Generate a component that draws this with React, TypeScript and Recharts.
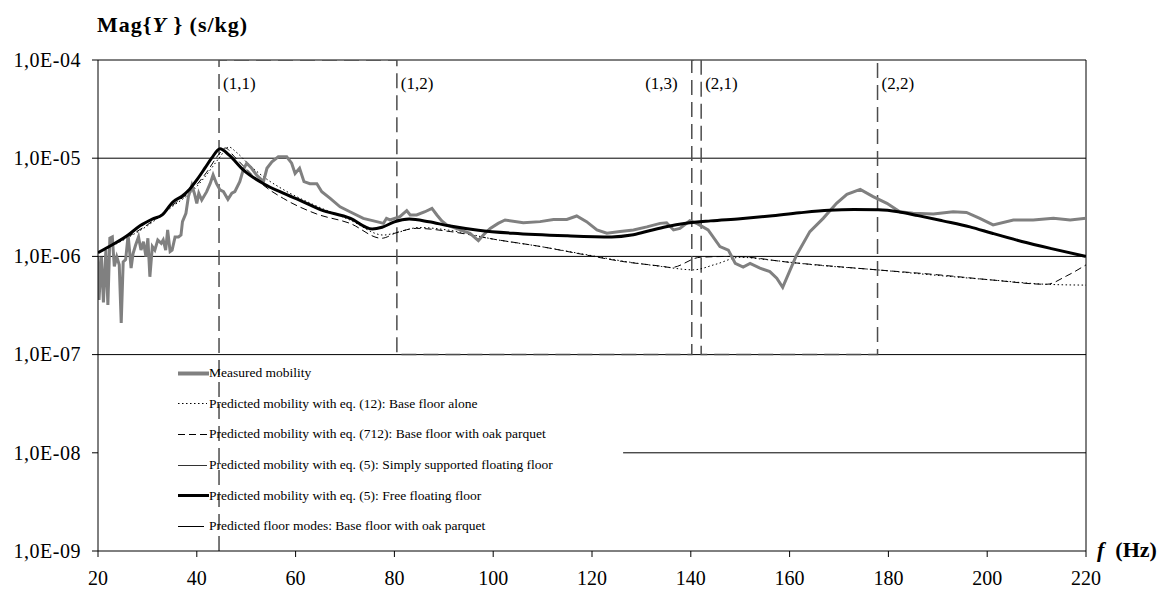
import React from 'react';
import { LineChart, Line, XAxis, YAxis, CartesianGrid, ReferenceLine, ReferenceDot } from 'recharts';

const FONT = '"Liberation Serif", "Times New Roman", serif';

const xTicks = [20, 40, 60, 80, 100, 120, 140, 160, 180, 200, 220];
const yTicks = [1e-9, 1e-8, 1e-7, 1e-6, 1e-5, 1e-4];
const yTickLabels = ['1,0E-09', '1,0E-08', '1,0E-07', '1,0E-06', '1,0E-05', '1,0E-04'];
const gridLevels = [1e-7, 1e-6, 1e-5, 1e-4];

// [frequency Hz, |Y| s/kg]
const measured: [number, number][] = [
  [20.0, 1.0e-6], [20.2, 3.6e-7], [20.7, 9.9e-7], [21.1, 3.4e-7], [21.6, 1.16e-6], [22.0, 3.2e-7],
  [22.4, 1.53e-6], [22.9, 1.58e-6], [23.3, 7.9e-7], [23.8, 9.9e-7], [24.3, 8.2e-7], [24.7, 2.1e-7],
  [25.1, 8.8e-7], [25.6, 9.3e-7], [26.1, 1.65e-6], [26.7, 7.6e-7], [27.1, 1.07e-6], [27.6, 1.3e-6],
  [28.2, 1.58e-6], [28.7, 1.16e-6], [29.2, 1.41e-6], [29.7, 1.0e-6], [30.1, 1.53e-6], [30.5, 6.2e-7],
  [31.0, 1.26e-6], [31.5, 1.16e-6], [32.1, 1.47e-6], [32.8, 1.36e-6], [33.2, 1.47e-6], [33.7, 1.16e-6],
  [34.1, 1.86e-6], [34.6, 1.12e-6], [35.0, 1.16e-6], [35.6, 1.58e-6], [36.3, 1.58e-6], [36.8, 1.65e-6],
  [37.1, 2.26e-6], [37.8, 2.75e-6], [38.3, 4.06e-6], [39.0, 5.3e-6], [39.5, 4.4e-6], [40.0, 3.47e-6],
  [40.4, 4.4e-6], [41.0, 3.75e-6], [42.0, 4.56e-6], [42.7, 5.5e-6], [43.3, 6.75e-6], [44.0, 5.5e-6],
  [44.7, 4.75e-6], [45.4, 4.56e-6], [46.3, 3.81e-6], [47.1, 4.4e-6], [47.7, 4.56e-6], [48.7, 5.77e-6],
  [49.4, 7.6e-6], [50.1, 8.9e-6], [51.1, 7.9e-6], [52.1, 6.75e-6], [53.5, 5.77e-6], [54.2, 7.9e-6],
  [55.2, 9.2e-6], [56.5, 1.035e-5], [58.2, 1.035e-5], [59.2, 8.9e-6], [59.9, 7.0e-6], [60.8, 7.9e-6],
  [61.7, 5.77e-6], [62.9, 5.5e-6], [64.3, 5.5e-6], [65.3, 4.56e-6], [67.0, 3.9e-6], [69.0, 3.2e-6],
  [71.0, 2.85e-6], [73.7, 2.44e-6], [76.4, 2.26e-6], [77.8, 2.17e-6], [78.4, 2.44e-6], [79.1, 2.35e-6],
  [81.1, 2.54e-6], [82.5, 2.92e-6], [83.2, 2.64e-6], [84.5, 2.64e-6], [86.2, 2.85e-6], [87.6, 3.09e-6],
  [88.6, 2.64e-6], [89.6, 2.3e-6], [90.6, 2.09e-6], [93.3, 1.86e-6], [95.3, 1.72e-6], [97.0, 1.45e-6],
  [98.0, 1.65e-6], [99.4, 1.93e-6], [101.0, 2.17e-6], [102.4, 2.35e-6], [106.1, 2.2e-6], [109.5, 2.26e-6],
  [112.2, 2.38e-6], [114.9, 2.38e-6], [116.9, 2.58e-6], [118.9, 2.26e-6], [121.0, 1.86e-6], [123.0, 1.72e-6],
  [125.7, 1.79e-6], [128.4, 1.86e-6], [131.1, 2.0e-6], [133.8, 2.17e-6], [135.1, 2.2e-6], [136.5, 1.86e-6],
  [137.8, 1.93e-6], [139.8, 2.31e-6], [141.4, 2.14e-6], [143.5, 1.86e-6], [145.9, 1.26e-6], [147.6, 1.16e-6],
  [149.0, 8.5e-7], [150.6, 7.8e-7], [152.0, 8.5e-7], [154.0, 7.6e-7], [156.0, 7.0e-7], [157.4, 6.0e-7],
  [158.6, 4.85e-7], [161.4, 1.03e-6], [164.1, 1.79e-6], [166.8, 2.44e-6], [169.5, 3.47e-6], [171.6, 4.28e-6],
  [174.3, 4.82e-6], [176.9, 4.06e-6], [179.7, 3.47e-6], [182.3, 2.85e-6], [185.0, 2.75e-6], [189.1, 2.7e-6],
  [193.1, 2.85e-6], [195.8, 2.8e-6], [198.5, 2.44e-6], [201.2, 2.09e-6], [205.3, 2.35e-6], [209.3, 2.35e-6],
  [213.4, 2.44e-6], [216.8, 2.35e-6], [220.0, 2.44e-6],
];

const baseFloorAlone: [number, number][] = [
  [20, 1.09e-6], [26, 1.55e-6], [30, 2.05e-6], [35, 3.2e-6], [39.6, 4.9e-6], [42, 6.8e-6], [44.5, 1.0e-5],
  [46.5, 1.3e-5], [48, 1.15e-5], [50.8, 8.4e-6], [54, 6.2e-6], [57.5, 4.8e-6], [64, 3.3e-6], [71, 2.35e-6],
  [77.8, 1.65e-6], [80.5, 1.75e-6], [85, 1.97e-6], [91, 1.85e-6], [100, 1.5e-6], [110, 1.25e-6],
  [118, 1.06e-6], [126, 9.0e-7], [134, 7.9e-7], [140.5, 7.3e-7], [145, 8.3e-7], [150, 9.8e-7],
  [155, 9.3e-7], [165, 8.2e-7], [177.6, 7.3e-7], [190, 6.4e-7], [201, 5.75e-7], [212, 5.2e-7], [220, 5.1e-7],
];

const baseFloorParquet: [number, number][] = [
  [20, 1.09e-6], [26, 1.58e-6], [30, 2.1e-6], [35, 3.3e-6], [39.6, 5.1e-6], [42, 7.2e-6], [44.5, 1.1e-5],
  [45.8, 1.27e-5], [47.5, 1.05e-5], [50, 7.8e-6], [53.5, 5.3e-6], [57.5, 3.9e-6], [64.3, 2.7e-6],
  [71, 2.17e-6], [77.4, 1.53e-6], [80.5, 1.75e-6], [84.5, 1.93e-6], [91.3, 1.79e-6], [100, 1.5e-6],
  [110, 1.25e-6], [117.6, 1.06e-6], [126, 8.9e-7], [134.4, 7.9e-7], [136, 7.7e-7], [141.9, 9.8e-7],
  [148.6, 1.0e-6], [160, 8.7e-7], [177.6, 7.3e-7], [190, 6.5e-7], [201, 5.75e-7], [212, 5.2e-7],
  [216, 6.3e-7], [220, 8.2e-7],
];

const simplySupported: [number, number][] = [
  [126.3, 1e-8], [220, 1e-8],
];

const freeFloating: [number, number][] = [
  [20, 1.09e-6], [23, 1.32e-6], [26.1, 1.65e-6], [28.5, 2.05e-6], [31, 2.4e-6], [33, 2.65e-6],
  [35.2, 3.6e-6], [37, 4.1e-6], [38.5, 4.8e-6], [40, 6.0e-6], [41.7, 8.0e-6], [43, 1.0e-5],
  [44.7, 1.25e-5], [46.5, 1.08e-5], [49.4, 7.6e-6], [53.5, 5.5e-6], [57.5, 4.4e-6], [61, 3.7e-6],
  [65, 3.0e-6], [71, 2.45e-6], [75.5, 1.9e-6], [77.5, 1.98e-6], [80, 2.25e-6], [83, 2.4e-6],
  [87, 2.25e-6], [91, 2.05e-6], [97, 1.85e-6], [104, 1.72e-6], [115, 1.62e-6], [124, 1.58e-6],
  [128, 1.65e-6], [131, 1.79e-6], [135, 2.0e-6], [139, 2.17e-6], [144, 2.3e-6], [150, 2.42e-6],
  [156, 2.58e-6], [162, 2.78e-6], [168, 2.95e-6], [173, 3.0e-6], [178, 2.98e-6], [182, 2.85e-6],
  [186, 2.6e-6], [191, 2.3e-6], [196.5, 2.0e-6], [201, 1.72e-6], [207, 1.42e-6], [213, 1.2e-6], [220, 1.0e-6],
];

// floor modes drawn as a connected step trace
const floorModes: [number, number][] = [
  [44.5, 1e-9], [44.5, 1e-4], [80.5, 1e-4], [80.5, 1e-7], [140.2, 1e-7], [140.2, 1e-4],
  [142.1, 1e-4], [142.1, 1e-7], [177.8, 1e-7], [177.8, 1e-4],
];

const modeLabels = ['(1,1)', '(1,2)', '(1,3)', '(2,1)', '(2,2)'];
const modeFreqs = [44.5, 80.5, 140.2, 142.1, 177.8];
const modeLabelLevel = 5.8e-5;

const toRows = (pts: [number, number][]) => pts.map(([f, v]) => ({ f, v }));

const legendItems = [
  { label: 'Measured mobility', stroke: '#808080', width: 4, dash: undefined as string | undefined, len: 31 },
  { label: 'Predicted mobility with eq. (12): Base floor alone', stroke: '#000', width: 1, dash: '1.5 2.5', len: 29 },
  { label: 'Predicted mobility with eq. (712): Base floor with oak parquet', stroke: '#000', width: 1, dash: '7 4', len: 31 },
  { label: 'Predicted mobility with eq. (5): Simply supported floating floor', stroke: '#333', width: 1, dash: undefined, len: 29 },
  { label: 'Predicted mobility with eq. (5): Free floating floor', stroke: '#000', width: 3, dash: undefined, len: 31 },
  { label: 'Predicted floor modes: Base floor with oak parquet', stroke: '#000', width: 1, dash: undefined, len: 26 },
];

const ChartLegend = () => (
  <div style={{ position: 'absolute', left: 178, top: 358, fontFamily: FONT, fontSize: 13.5, color: '#000' }}>
    {legendItems.map((it) => (
      <div key={it.label} style={{ display: 'flex', alignItems: 'center', height: 30.6 }}>
        <svg width={31} height={11} style={{ flex: 'none' }}>
          <line x1={0} y1={5.5} x2={it.len} y2={5.5} stroke={it.stroke} strokeWidth={it.width} strokeDasharray={it.dash} />
        </svg>
        <span style={{ whiteSpace: 'nowrap' }}>{it.label}</span>
      </div>
    ))}
  </div>
);

const YTick = ({ x, y, payload }: any) => {
  const i = yTicks.findIndex((t) => Math.abs(Math.log10(t) - Math.log10(payload.value)) < 0.01);
  return (
    <text x={x} y={y} dy="0.34em" textAnchor="end" fontFamily={FONT} fontSize={20} letterSpacing={0.5} fill="#000">
      {yTickLabels[i]}
    </text>
  );
};

const XTick = ({ x, y, payload }: any) => (
  <text x={x} y={y} dy={26} textAnchor="middle" fontFamily={FONT} fontSize={20} fill="#000">
    {payload.value}
  </text>
);

export default function App() {
  return (
    <div style={{ position: 'absolute', left: 0, top: 0, width: 1165, height: 591, background: '#fff' }}>
      <LineChart width={1165} height={591} margin={{ top: 60, right: 79, bottom: 0, left: 0 }}>
        <CartesianGrid horizontal vertical={false} horizontalValues={gridLevels} stroke="#000" strokeWidth={1} />
        <XAxis
          dataKey="f"
          type="number"
          domain={[20, 220]}
          ticks={xTicks}
          allowDataOverflow
          height={40}
          tickSize={6}
          stroke="#000"
          tick={<XTick />}
        />
        <YAxis
          type="number"
          scale="log"
          domain={[1e-9, 1e-4]}
          ticks={yTicks}
          allowDataOverflow
          width={98}
          tickSize={6}
          tickMargin={11}
          stroke="#000"
          tick={<YTick />}
        />
        <ReferenceLine x={220} stroke="#000" strokeWidth={1} />
        <Line data={toRows(floorModes)} dataKey="v" type="linear" stroke="#4d4d4d" strokeWidth={1.5} strokeDasharray="15 7" dot={false} isAnimationActive={false} />
        <Line data={toRows(simplySupported)} dataKey="v" type="linear" stroke="#000" strokeWidth={1} dot={false} isAnimationActive={false} />
        <Line data={toRows(baseFloorAlone)} dataKey="v" type="monotone" stroke="#000" strokeWidth={1} strokeDasharray="1.5 2.5" dot={false} isAnimationActive={false} />
        <Line data={toRows(baseFloorParquet)} dataKey="v" type="monotone" stroke="#000" strokeWidth={1} strokeDasharray="7 4" dot={false} isAnimationActive={false} />
        <Line data={toRows(measured)} dataKey="v" type="linear" stroke="#808080" strokeWidth={3} dot={false} isAnimationActive={false} />
        <Line data={toRows(freeFloating)} dataKey="v" type="monotone" stroke="#000" strokeWidth={3} dot={false} isAnimationActive={false} />
        {modeFreqs.map((f, i) => (
          <ReferenceDot
            key={modeLabels[i]}
            x={f}
            y={modeLabelLevel}
            r={0}
            fill="none"
            stroke="none"
            label={{
              value: modeLabels[i],
              position: i === 2 ? 'left' : 'right',
              offset: i === 2 ? 14 : 4,
              fill: '#000',
              fontSize: 17,
              fontFamily: FONT,
            }}
          />
        ))}
      </LineChart>
      <ChartLegend />
      <div style={{ position: 'absolute', left: 97, top: 14, fontFamily: FONT, fontSize: 22, fontWeight: 'bold', letterSpacing: 1, lineHeight: 1, whiteSpace: 'pre' }}>
        Mag{'{'}<i>Y</i> {'}'} (s/kg)
      </div>
      <div style={{ position: 'absolute', left: 1097, top: 539, fontFamily: FONT, fontSize: 22, fontWeight: 'bold', lineHeight: 1, whiteSpace: 'pre' }}>
        <i>f</i>  (Hz)
      </div>
    </div>
  );
}
